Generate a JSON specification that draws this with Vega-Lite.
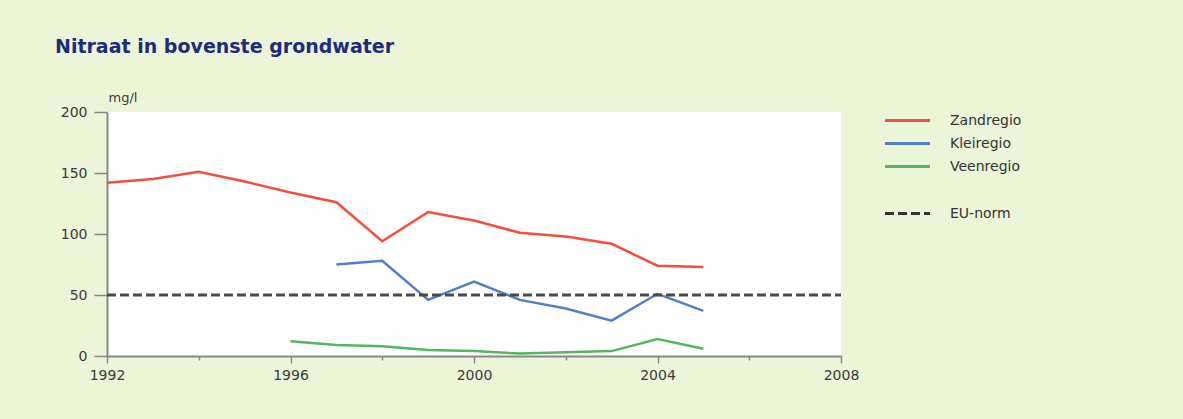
{
  "$schema": "https://vega.github.io/schema/vega-lite/v6.json",
  "width": 734,
  "height": 244,
  "autosize": {"type": "none"},
  "padding": {"left": 107, "top": 112, "right": 342, "bottom": 63},
  "background": "#ecf5d8",
  "title": {
    "text": "Nitraat in bovenste grondwater",
    "anchor": "start",
    "frame": "group",
    "dx": -52,
    "offset": 34,
    "font": "DejaVu Sans",
    "fontSize": 19,
    "fontWeight": "bold",
    "color": "#1c2d7c"
  },
  "config": {
    "view": {"fill": "white", "stroke": null},
    "font": "DejaVu Sans",
    "axis": {
      "grid": false,
      "domainColor": "#888888",
      "domainWidth": 2,
      "tickColor": "#888888",
      "tickWidth": 1.5,
      "labelFont": "DejaVu Sans",
      "labelFontSize": 14,
      "labelColor": "#3a3a3a",
      "labelFlush": false
    },
    "legend": {
      "labelFont": "DejaVu Sans",
      "labelFontSize": 14,
      "labelColor": "#333333",
      "padding": 0
    }
  },
  "datasets": {
    "regio": [
      {"jaar": 1992, "regio": "Zandregio", "waarde": 142},
      {"jaar": 1993, "regio": "Zandregio", "waarde": 145},
      {"jaar": 1994, "regio": "Zandregio", "waarde": 151},
      {"jaar": 1995, "regio": "Zandregio", "waarde": 143},
      {"jaar": 1996, "regio": "Zandregio", "waarde": 134},
      {"jaar": 1997, "regio": "Zandregio", "waarde": 126},
      {"jaar": 1998, "regio": "Zandregio", "waarde": 94},
      {"jaar": 1999, "regio": "Zandregio", "waarde": 118},
      {"jaar": 2000, "regio": "Zandregio", "waarde": 111},
      {"jaar": 2001, "regio": "Zandregio", "waarde": 101},
      {"jaar": 2002, "regio": "Zandregio", "waarde": 98},
      {"jaar": 2003, "regio": "Zandregio", "waarde": 92},
      {"jaar": 2004, "regio": "Zandregio", "waarde": 74},
      {"jaar": 2005, "regio": "Zandregio", "waarde": 73},
      {"jaar": 1997, "regio": "Kleiregio", "waarde": 75},
      {"jaar": 1998, "regio": "Kleiregio", "waarde": 78},
      {"jaar": 1999, "regio": "Kleiregio", "waarde": 46},
      {"jaar": 2000, "regio": "Kleiregio", "waarde": 61},
      {"jaar": 2001, "regio": "Kleiregio", "waarde": 46},
      {"jaar": 2002, "regio": "Kleiregio", "waarde": 39},
      {"jaar": 2003, "regio": "Kleiregio", "waarde": 29},
      {"jaar": 2004, "regio": "Kleiregio", "waarde": 51},
      {"jaar": 2005, "regio": "Kleiregio", "waarde": 37},
      {"jaar": 1996, "regio": "Veenregio", "waarde": 12},
      {"jaar": 1997, "regio": "Veenregio", "waarde": 9},
      {"jaar": 1998, "regio": "Veenregio", "waarde": 8},
      {"jaar": 1999, "regio": "Veenregio", "waarde": 5},
      {"jaar": 2000, "regio": "Veenregio", "waarde": 4},
      {"jaar": 2001, "regio": "Veenregio", "waarde": 2},
      {"jaar": 2002, "regio": "Veenregio", "waarde": 3},
      {"jaar": 2003, "regio": "Veenregio", "waarde": 4},
      {"jaar": 2004, "regio": "Veenregio", "waarde": 14},
      {"jaar": 2005, "regio": "Veenregio", "waarde": 6}
    ],
    "norm": [
      {"jaar": 1992, "serie": "EU-norm", "waarde": 50},
      {"jaar": 2008, "serie": "EU-norm", "waarde": 50}
    ]
  },
  "layer": [
    {
      "data": {"name": "regio"},
      "mark": {"type": "line", "strokeWidth": 2.5},
      "encoding": {
        "x": {
          "field": "jaar",
          "type": "quantitative",
          "scale": {"domain": [1992, 2008], "nice": false, "zero": false},
          "axis": {
            "title": null,
            "values": [1992, 1994, 1996, 1998, 2000, 2002, 2004, 2006, 2008],
            "labelExpr": "datum.value % 4 === 0 ? datum.value : ''",
            "tickSize": {"condition": {"test": "datum.value % 4 === 0", "value": 7}, "value": 4},
            "labelPadding": 5
          }
        },
        "y": {
          "field": "waarde",
          "type": "quantitative",
          "scale": {"domain": [0, 200], "nice": false},
          "axis": {
            "title": "mg/l",
            "titleAngle": 0,
            "titleX": 1,
            "titleY": -15,
            "titleAlign": "left",
            "titleBaseline": "middle",
            "titleFontWeight": "normal",
            "titleFontSize": 13,
            "titleColor": "#3a3a3a",
            "titleFont": "DejaVu Sans",
            "values": [0, 25, 50, 75, 100, 125, 150, 175, 200],
            "labelExpr": "datum.value % 50 === 0 ? datum.value : ''",
            "tickSize": {"condition": {"test": "datum.value % 50 === 0", "value": 13}, "value": 8},
            "labelPadding": 7
          }
        },
        "color": {
          "field": "regio",
          "type": "nominal",
          "scale": {
            "domain": ["Zandregio", "Kleiregio", "Veenregio"],
            "range": ["#f44e3f", "#5080c8", "#52b860"]
          },
          "legend": {
            "title": null,
            "orient": "none",
            "legendX": 790,
            "legendY": -2,
            "symbolType": "M-2.5,0H2.5",
            "symbolSize": 324,
            "symbolStrokeWidth": 3,
            "labelOffset": 32,
            "rowPadding": 5
          }
        }
      }
    },
    {
      "data": {"name": "norm"},
      "mark": {"type": "line", "strokeWidth": 3, "color": "#4a4a4a", "strokeDash": [9, 4]},
      "encoding": {
        "x": {"field": "jaar", "type": "quantitative"},
        "y": {"field": "waarde", "type": "quantitative"},
        "strokeDash": {
          "field": "serie",
          "type": "nominal",
          "scale": {"domain": ["EU-norm"], "range": [[9, 4]]},
          "legend": {
            "title": null,
            "orient": "none",
            "legendX": 790,
            "legendY": 91,
            "symbolType": "M-2.5,0H2.5",
            "symbolSize": 324,
            "symbolStrokeWidth": 3,
            "symbolStrokeColor": "#333333",
            "labelOffset": 32
          }
        }
      }
    }
  ]
}
